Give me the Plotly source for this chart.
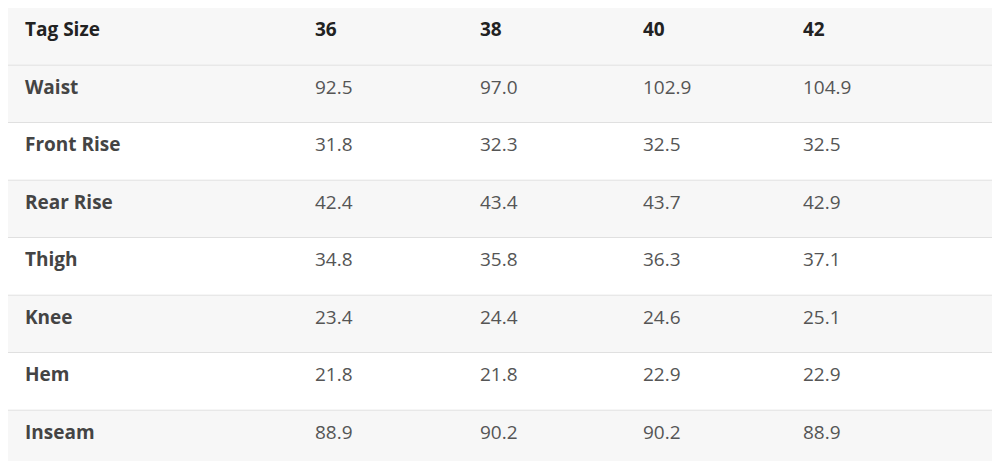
import plotly.graph_objects as go

header = ["Tag Size", "36", "38", "40", "42"]
measures = ["Waist", "Front Rise", "Rear Rise", "Thigh", "Knee", "Hem", "Inseam"]
size_36 = [92.5, 31.8, 42.4, 34.8, 23.4, 21.8, 88.9]
size_38 = [97.0, 32.3, 43.4, 35.8, 24.4, 21.8, 90.2]
size_40 = [102.9, 32.5, 43.7, 36.3, 24.6, 22.9, 90.2]
size_42 = [104.9, 32.5, 42.9, 37.1, 25.1, 22.9, 88.9]

W, H = 1000, 461
ROW_H = 57.5
FONT = "Open Sans"

# span-wrap the plain numbers so they lay out the same way as the bold labels
value_cols = [[f"<span>{v:.1f}</span>" for v in s] for s in (size_36, size_38, size_40, size_42)]
n_rows = len(measures) + 1

fig = go.Figure(go.Table(
    domain=dict(x=[9 / W, 1], y=[0, 1]),
    columnwidth=[290, 165, 163, 160, 213],
    header=dict(
        values=[f"<b>{h}</b>" for h in header],
        align="left", height=ROW_H,
        fill_color="rgba(0,0,0,0)", line_color="rgba(0,0,0,0)",
        font=dict(family=FONT, size=19, color="#222222"),
    ),
    cells=dict(
        values=[[f"<b>{m}</b>" for m in measures]] + value_cols,
        align="left", height=ROW_H,
        fill_color="rgba(0,0,0,0)", line_color="rgba(0,0,0,0)",
        font=dict(family=FONT, size=19, color=[["#444444"] * 7] + [["#555555"] * 7] * 4),
    ),
))

# row backgrounds and separators
shapes = []
for i in range(n_rows):
    y1 = 1 - i * ROW_H / H
    y0 = 1 - (i + 1) * ROW_H / H
    fill = "#ffffff" if i in (2, 4, 6) else "#f7f7f7"
    shapes.append(dict(type="rect", xref="paper", yref="paper", x0=0, x1=1, y0=y0, y1=y1,
                       fillcolor=fill, line_width=0, layer="below"))
    if i < n_rows - 1:
        shapes.append(dict(type="line", xref="paper", yref="paper", x0=0, x1=1, y0=y0, y1=y0,
                           line=dict(color="#d9d9d9", width=1.5), layer="below"))

fig.update_layout(
    width=W, height=H,
    margin=dict(l=0, r=0, t=0, b=0),
    paper_bgcolor="white",
    shapes=shapes,
)

fig.write_html("out.html")
